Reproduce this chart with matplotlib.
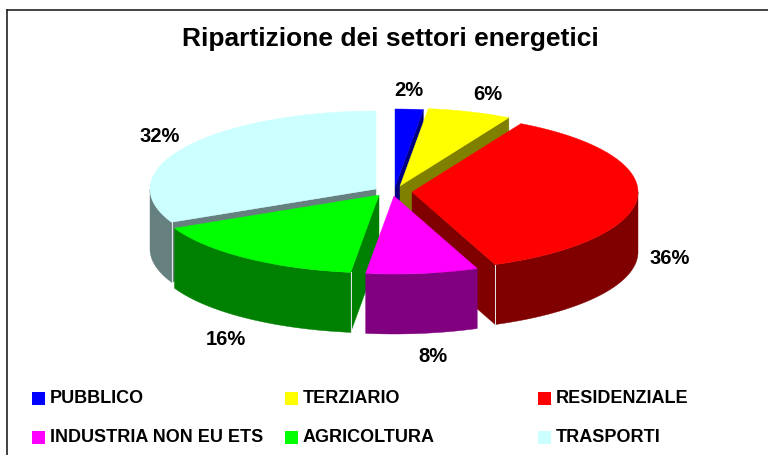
import numpy as np
import matplotlib
matplotlib.use("Agg")
import matplotlib.pyplot as plt
from matplotlib.patches import Polygon, Rectangle

plt.rcParams['font.family'] = ['Liberation Sans', 'DejaVu Sans']

title = "Ripartizione dei settori energetici"
sectors = ["PUBBLICO", "TERZIARIO", "RESIDENZIALE", "INDUSTRIA NON EU ETS", "AGRICOLTURA", "TRASPORTI"]
shares = [2, 6, 36, 8, 16, 32]

# colours for the top and the side of each slice
top_colors = ["#0000FF", "#FFFF00", "#FF0000", "#FF00FF", "#00FF00", "#CCFFFF"]
side_colors = ["#000080", "#808000", "#800000", "#800080", "#008000", "#668080"]

# layout, in pixels of the picture
apex_x = [395, 400, 412, 394, 379, 376]
apex_y = [188, 187, 193, 197, 196, 190]
label_x = [409, 488, 670, 433, 226, 160]
label_y = [90, 94, 259, 357, 340, 137]
RX = 226
RY = 78
DEPTH = 60
draw_order = [5, 0, 1, 2, 4, 3]


def rim_point(i, angle):
	a = np.radians(angle)
	return apex_x[i] + RX*np.sin(a), apex_y[i] - RY*np.cos(a)


def draw_slice(ax, i, start, end):
	apex = (apex_x[i], apex_y[i])
	side = side_colors[i]

	# radial cut faces, only those turned to the viewer
	for cut, visible in ((start, np.sin(np.radians(start)) < 0), (end, np.sin(np.radians(end)) > 0)):
		if visible:
			x, y = rim_point(i, cut)
			pts = [apex, (x, y), (x, y + DEPTH), (apex[0], apex[1] + DEPTH)]
			ax.add_patch(Polygon(pts, closed=True, fc=side, ec=side, lw=0.3))

	# outer wall, front half of the ellipse only
	lo = max(start, 90)
	hi = min(end, 270)
	if lo < hi:
		t = np.linspace(lo, hi, 80)
		x, y = rim_point(i, t)
		pts = np.vstack([np.column_stack([x, y]), np.column_stack([x, y + DEPTH])[::-1]])
		ax.add_patch(Polygon(pts, closed=True, fc=side, ec=side, lw=0.3))

	# thin light line where the cut face meets the wall
	for cut, visible in ((start, np.sin(np.radians(start)) < 0), (end, np.sin(np.radians(end)) > 0)):
		if visible and 90 < cut < 270:
			x, y = rim_point(i, cut)
			ax.plot([x, x], [y, y + DEPTH], color="#E8E8E8", lw=0.7)

	# top face
	t = np.linspace(start, end, 120)
	x, y = rim_point(i, t)
	pts = np.vstack([[apex], np.column_stack([x, y])])
	ax.add_patch(Polygon(pts, closed=True, fc=top_colors[i], ec=top_colors[i], lw=0.3))


fig = plt.figure(figsize=(7.68, 4.56), dpi=100)
ax = fig.add_axes([0, 0, 1, 1])
ax.set_xlim(0, 768)
ax.set_ylim(456, 0)
ax.axis("off")

# chart frame, runs off the right and bottom of the picture
ax.plot([7, 7], [470, 11], color="#222222", lw=1.2)
ax.plot([7, 780], [11, 11], color="#222222", lw=1.2)

ax.text(390, 39, title, fontsize=19, fontweight="bold", ha="center", va="center", color="black")

edges = np.cumsum([0] + shares) * 360.0 / sum(shares)
for i in draw_order:
	draw_slice(ax, i, edges[i], edges[i + 1])

for i in range(len(shares)):
	ax.text(label_x[i], label_y[i], "%d%%" % shares[i], fontsize=14.5, fontweight="bold", ha="center", va="center")

# legend, three columns and two rows
for i, name in enumerate(sectors):
	col = i % 3
	row = i // 3
	x = 32 + 253*col
	y = 393 + 39*row
	ax.add_patch(Rectangle((x, y), 13, 13, fc=top_colors[i], ec="none"))
	ax.text(x + 18, y + 6, name, fontsize=13, fontweight="bold", ha="left", va="center")

fig.savefig("out.png", dpi=100)
